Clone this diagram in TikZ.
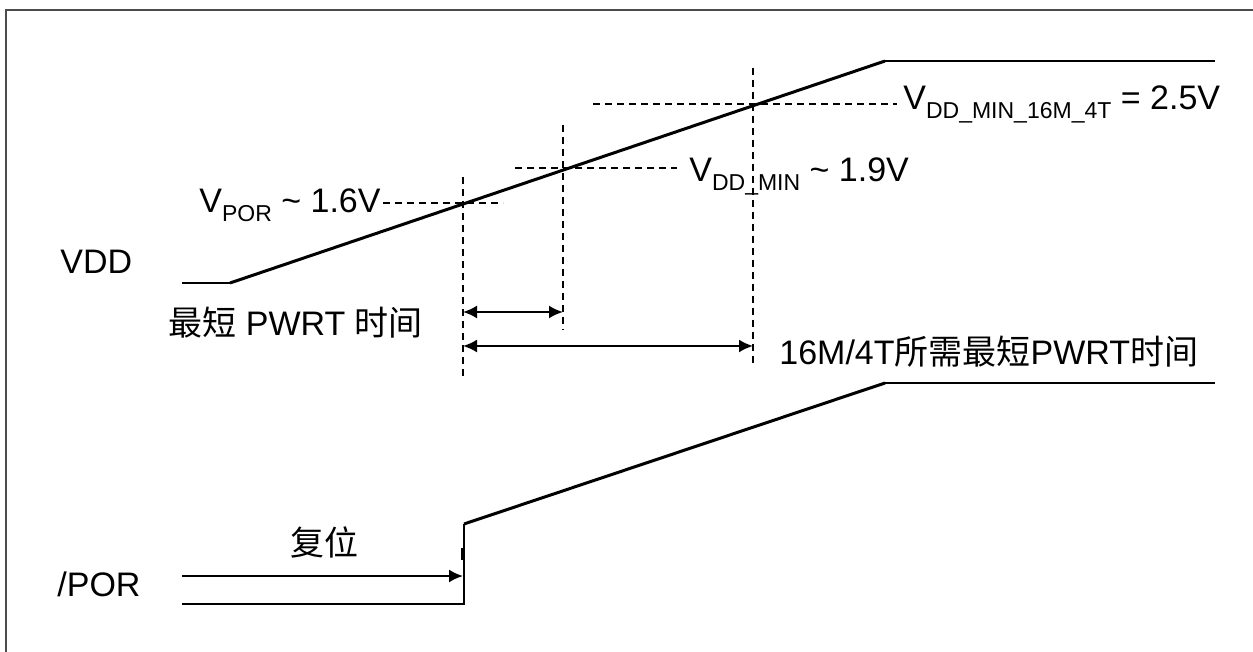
\documentclass[tikz,border=0pt]{standalone}
\usepackage{fontspec}
\setmainfont{Liberation Sans}
\newfontfamily\cjk{Noto Sans CJK SC}
\usetikzlibrary{arrows.meta}
\newcommand{\vsub}[1]{\raisebox{-4.5pt}{\fontsize{11.5}{13}\selectfont #1}}

\begin{document}
\begin{tikzpicture}[x = 0.5pt, y = -0.5pt,
    every node/.style = {font=\fontsize{17}{20}\selectfont, inner sep=0pt},
    sigline/.style = {line width=1pt},
    edgeline/.style = {line width=1.5pt},
    dashline/.style = {line width=0.75pt, dash pattern=on 3.5pt off 2.5pt},
    timearrow/.style = {line width=1pt, {Latex[length=7pt,width=6.5pt]}-{Latex[length=7pt,width=6.5pt]}}]
    \useasboundingbox (0,0) rectangle (1253,652);
    % frame
    \draw[line width=1pt, black!70] (1260,10) -- (6,10) -- (6,660);
    % VDD
    \draw[sigline] (182,283) -- (230,283);
    \draw[edgeline] (230,283) -- (885,61);
    \draw[sigline] (885,61) -- (1215,61);
    % /POR
    \draw[sigline] (182,604) -- (464,604) -- (464,524);
    \draw[edgeline] (464,524) -- (885,383);
    \draw[sigline] (885,383) -- (1215,383);
    \draw[line width=2pt] (463,548) -- (463,560);
    % guides
    \draw[dashline]
    (463,177) -- (463,380)
    (563,125) -- (563,330)
    (753,68) -- (753,366)
    (383,203) -- (503,203)
    (515,168) -- (677,168)
    (593,104) -- (897,104);
    % labels
    \node (vdd) [anchor=west] at (60,262) {VDD};
    \node (por) [anchor=west] at (57,584) {/POR};
    \node (vpor) [anchor=base east] at (381,213) {V\vsub{POR} \textasciitilde{} 1.6V};
    \node (vmin) [anchor=base west] at (689,182) {V\vsub{DD\_MIN} \textasciitilde{} 1.9V};
    \node (vmin16) [anchor=base west] at (903,110) {V\vsub{DD\_MIN\_16M\_4T} = 2.5V};
    \node (pwrt) [anchor=west] at (168,323) {{\cjk 最短} PWRT {\cjk 时间}};
    \node (pwrt16) [anchor=west] at (779,352) {16M/4T{\cjk 所需最短}PWRT{\cjk 时间}};
    \node (rst) at (324,542) {\cjk 复位};
    % time spans
    \coordinate (pwrt-a) at (463,312);
    \coordinate (pwrt-b) at (563,312);
    \coordinate (pwrt16-a) at (463,346);
    \coordinate (pwrt16-b) at (753,346);
    \coordinate (rst-a) at (182,576);
    \coordinate (rst-b) at (463,576);
    \draw[timearrow] (pwrt-a) -- (pwrt-b);
    \draw[timearrow] (pwrt16-a) -- (pwrt16-b);
    \draw[line width=1pt, -{Latex[length=7pt,width=6.5pt]}] (rst-a) -- (rst-b);
\end{tikzpicture}
\end{document}
